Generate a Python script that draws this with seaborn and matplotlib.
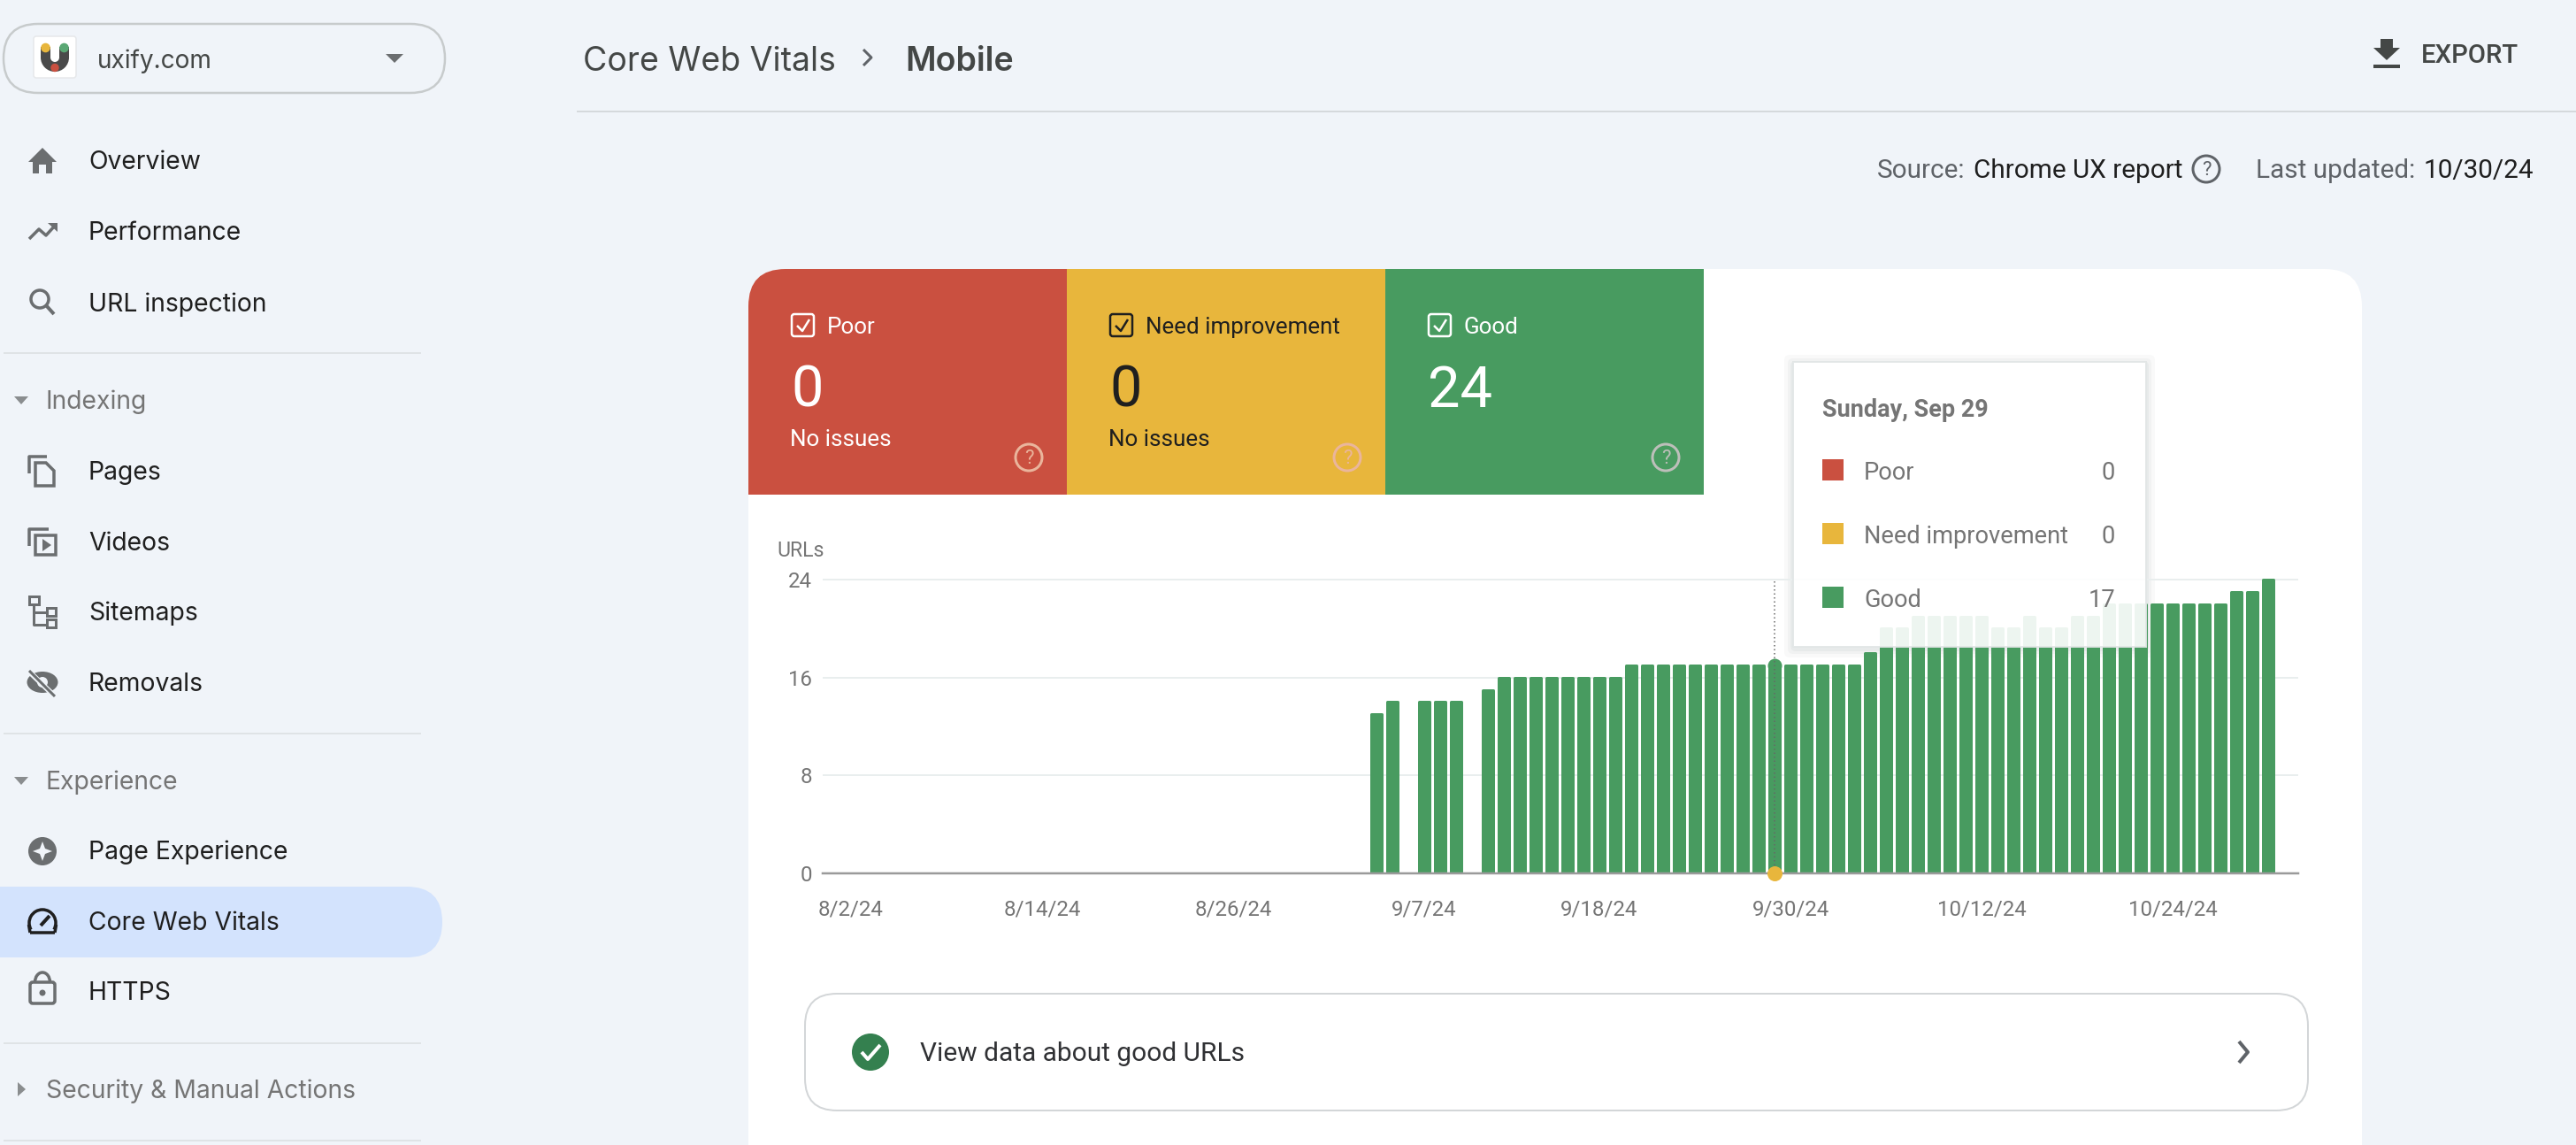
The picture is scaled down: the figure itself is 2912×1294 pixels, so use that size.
import numpy as np
import pandas as pd
import matplotlib
matplotlib.use('Agg')
import matplotlib.pyplot as plt
import seaborn as sns
from matplotlib.patches import Rectangle, FancyBboxPatch, Circle, Wedge, Polygon, Arc, Ellipse

# chart data
good_urls = [0] * 33 + [13, 14, 0, 14, 14, 14, 0, 15] + [16] * 8 + [17] * 15 + [18] \
    + [20, 20, 21, 21, 21, 21, 21, 20, 20, 21, 20, 20, 21, 21] + [22] * 8 + [23, 23, 24]
dates = pd.date_range('2024-08-02', periods=len(good_urls))
day_labels = [f'{d.month}/{d.day}/{d.year % 100}' for d in dates]
x_tick_labels = ['8/2/24', '8/14/24', '8/26/24', '9/7/24', '9/18/24', '9/30/24', '10/12/24', '10/24/24']
y_ticks = [0, 8, 16, 24]
hover_day = '9/29/24'

cards = ['Poor', 'Need improvement', 'Good']
card_counts = [0, 0, 24]
card_notes = ['No issues', 'No issues', '']
tooltip_counts = [0, 0, 17]

nav_items = ['Overview', 'Performance', 'URL inspection', 'Pages', 'Videos', 'Sitemaps',
             'Removals', 'Page Experience', 'Core Web Vitals', 'HTTPS']
nav_y = [181, 261, 342, 532, 612, 691, 771, 961, 1041, 1120]
sections = ['Indexing', 'Experience', 'Security & Manual Actions']
section_y = [452, 882, 1231]
dividers_y = [399, 829, 1179, 1289]

BG = '#f0f4f9'
RED = '#ca5040'
YELLOW = '#e8b63c'
GREEN = '#489b60'
card_colors = [RED, YELLOW, GREEN]
ink = ['white', '#1f1f1f', 'white']
help_colors = ['#eab59c', '#eab59c', '#bdbfba']
DARK = '#1f1f1f'
GREY = '#757575'
ICON = '#6b6e70'
UI_FONT = 'Inter'
CHART_FONT = 'Roboto'


def pt(px):
    return px * 0.72


sns.set_theme(style='white')
plt.rcParams['font.family'] = [CHART_FONT, 'DejaVu Sans']
# seaborn forces white edges on patches, which cuts into the small icons
plt.rcParams['patch.force_edgecolor'] = False

W, H = 2912, 1294
fig = plt.figure(figsize=(W / 100, H / 100), dpi=100, facecolor=BG)

# page layer in pixel coordinates
bg = fig.add_axes([0, 0, 1, 1], zorder=0)
bg.set_xlim(0, W)
bg.set_ylim(H, 0)
bg.axis('off')


def ui_text(ax, x, y, s, px=26, color=DARK, family=UI_FONT, **kw):
    # text boxes sit a little high with va=center, so push down in proportion to size
    kw.setdefault('va', 'center')
    ax.text(x, y + 2 + px * 0.04, s, fontsize=pt(px), color=color, family=family, **kw)


def help_icon(ax, x, y, color, r=15):
    ax.add_patch(Circle((x, y), r, fc='none', ec=color, lw=pt(3)))
    ax.text(x, y + 1, '?', fontsize=pt(22), color=color, ha='center', va='center')


def line(ax, xs, ys, color=ICON, w=3.5, **kw):
    ax.plot(xs, ys, color=color, lw=pt(w), solid_capstyle='butt', **kw)


# sidebar
bg.add_patch(FancyBboxPatch((4, 27), 499, 78, boxstyle='round,pad=0,rounding_size=39', fc='none', ec='#c7cbcc', lw=pt(2.5)))
bg.add_patch(FancyBboxPatch((38, 41), 48, 47, boxstyle='round,pad=0,rounding_size=3', fc='white', ec='#e6e8ea', lw=pt(1.5)))
bg.add_patch(Wedge((62, 65), 16, 0, 180, width=11, fc='#4a4a4a'))
bg.add_patch(Rectangle((46, 53), 11, 12, fc='#4a4a4a'))
bg.add_patch(Rectangle((67, 53), 11, 12, fc='#4a4a4a'))
bg.add_patch(Circle((51.5, 54), 5.3, fc=YELLOW))
bg.add_patch(Circle((72.5, 54), 5.3, fc='#5aa874'))
bg.add_patch(Circle((62, 76.5), 4.7, fc=RED))
ui_text(bg, 110, 66, 'uxify.com', px=28, color='#444746')
bg.add_patch(Polygon([(436, 61), (456, 61), (446, 71)], fc=ICON))

bg.add_patch(FancyBboxPatch((-60, 1002), 560, 80, boxstyle='round,pad=0,rounding_size=40', fc='#d3e3fd', ec='none'))
for name, y in zip(nav_items, nav_y):
    ui_text(bg, 100, y - 1, name, px=28.3)
for name, y in zip(sections, section_y):
    ui_text(bg, 52, y - 1, name, px=28.3, color=GREY)
for y in dividers_y:
    line(bg, [4, 476], [y, y], color='#dfe3e6', w=2)
for y in section_y[:2]:
    bg.add_patch(Polygon([(16, y - 4), (32, y - 4), (24, y + 5)], fc='#8a8d8f'))
bg.add_patch(Polygon([(20, section_y[2] - 8), (29, section_y[2]), (20, section_y[2] + 8)], fc='#8a8d8f'))

# nav icons
bg.add_patch(Polygon([(48, 167), (32, 183), (37, 183), (37, 196), (44, 196), (44, 186), (52, 186),
                      (52, 196), (59, 196), (59, 183), (64, 183)], fc=ICON))
line(bg, [33, 44, 52, 63], [270, 259, 266, 254])
bg.add_patch(Polygon([(54, 252), (65, 252), (65, 262)], fc=ICON))
bg.add_patch(Circle((45, 338), 10, fc='none', ec=ICON, lw=pt(3.5)))
line(bg, [52, 61], [345, 355], w=4)
line(bg, [33, 33, 53], [535, 516, 516])
bg.add_patch(Polygon([(40, 523), (52, 523), (61, 532), (61, 549), (40, 549)], fc='none', ec=ICON, lw=pt(3.5)))
line(bg, [33, 33, 55], [617, 598, 598])
bg.add_patch(Rectangle((40, 605), 23, 22, fc='none', ec=ICON, lw=pt(3.5)))
bg.add_patch(Polygon([(48, 609), (58, 616), (48, 623)], fc=ICON))
for (rx, ry, rw) in [(33, 674, 11), (53, 687, 10), (53, 700, 10)]:
    bg.add_patch(Rectangle((rx, ry), rw, 9, fc='none', ec=ICON, lw=pt(3)))
line(bg, [38, 38, 53], [684, 706, 706], w=3)
line(bg, [38, 53], [692, 692], w=3)
bg.add_patch(Ellipse((48, 771), 35, 24, fc=ICON))
bg.add_patch(Circle((48, 771), 6, fc=BG))
line(bg, [33, 61], [759, 786], color=BG, w=6)
line(bg, [33, 62], [758, 787], w=3)
bg.add_patch(Ellipse((48, 962), 32, 32, fc=ICON))
bg.add_patch(Polygon([(48, 951), (51, 959), (59, 962), (51, 965), (48, 973), (45, 965), (37, 962), (45, 959)], fc=BG))
bg.add_patch(Arc((48, 1043), 30, 30, theta1=150, theta2=30, ec=DARK, lw=pt(3.5)))
line(bg, [34, 62], [1054, 1054], color=DARK)
line(bg, [34, 32.5], [1054, 1045], color=DARK)
line(bg, [62, 63.5], [1054, 1045], color=DARK)
line(bg, [46, 56], [1046, 1035], color=DARK, w=4)
bg.add_patch(FancyBboxPatch((34, 1110), 28, 24, boxstyle='round,pad=0,rounding_size=3', fc='none', ec=ICON, lw=pt(3.5)))
bg.add_patch(Arc((48, 1110), 17, 22, theta1=180, theta2=0, ec=ICON, lw=pt(3.5)))
bg.add_patch(Circle((48, 1122), 3.5, fc=ICON))

# header
ui_text(bg, 659, 66, 'Core Web Vitals', px=37.5, color='#444746')
line(bg, [976, 985, 976], [56, 65, 74], color='#5f6368', w=3)
ui_text(bg, 1023, 66, 'Mobile', px=37.5, color='#444746', fontweight='semibold')
line(bg, [652, W], [126, 126], color='#d5d9dc', w=2)
bg.add_patch(Polygon([(2691, 44), (2705, 44), (2705, 54), (2713, 54), (2698, 68), (2683, 54), (2691, 54)], fc='#444746'))
line(bg, [2683, 2713], [75, 75], color='#444746', w=4)
ui_text(bg, 2737, 60, 'EXPORT', px=29.3, color='#444746', family=CHART_FONT, fontweight='medium')
ui_text(bg, 2122, 190, 'Source:', px=29.8, color='#5f6368', family=CHART_FONT)
ui_text(bg, 2231, 190, 'Chrome UX report', px=29.8, family=CHART_FONT)
help_icon(bg, 2494, 191, '#5f6368')
ui_text(bg, 2550, 190, 'Last updated:', px=29.8, color='#5f6368', family=CHART_FONT)
ui_text(bg, 2864, 190, '10/30/24', px=29.8, family=CHART_FONT, ha='right')

# white panel and status cards
panel = FancyBboxPatch((846, 304), 1824, 1100, boxstyle='round,pad=0,rounding_size=42', fc='white', ec='none')
bg.add_patch(panel)
card_x = [846, 1206, 1566]
for x, name, count, note, color, fg, hc in zip(card_x, cards, card_counts, card_notes, card_colors, ink, help_colors):
    r = Rectangle((x, 304), 360, 255, fc=color, ec='none')
    bg.add_patch(r)
    r.set_clip_path(panel)
    bg.add_patch(FancyBboxPatch((x + 49, 355), 25, 25, boxstyle='round,pad=0,rounding_size=3', fc='none', ec=fg, lw=pt(2.5)))
    line(bg, [x + 55, x + 61, x + 69], [368, 374, 361], color=fg, w=2.5)
    ui_text(bg, x + 89, 367, name, px=26, color=fg, family=CHART_FONT)
    ui_text(bg, x + 48, 437, str(count), px=65, color=fg, family=CHART_FONT)
    if note:
        ui_text(bg, x + 47, 494, note, px=26, color=fg, family=CHART_FONT)
    help_icon(bg, x + 317, 517, hc)

# bottom button
bg.add_patch(FancyBboxPatch((910, 1123), 1699, 132, boxstyle='round,pad=0,rounding_size=36', fc='white', ec='#d3d6d8', lw=pt(2)))
bg.add_patch(Circle((984, 1189), 21, fc='#34804f'))
line(bg, [974, 981, 995], [1189, 1197, 1181], color='white', w=4)
ui_text(bg, 1040, 1188, 'View data about good URLs', px=29.9, family=CHART_FONT, color='#303134')
line(bg, [2531, 2541, 2531], [1177, 1189, 1201], color='#5f6368', w=4)

# tooltip shadow stays on the page layer, under the bars
for grow, a in [(10, 0.05), (6, 0.07), (3, 0.09)]:
    bg.add_patch(FancyBboxPatch((2027 - grow, 409 - grow + 2), 399 + 2 * grow, 322 + 2 * grow,
                                boxstyle='round,pad=0,rounding_size=6', fc='#8a9a9a', ec='none', alpha=a))
bg.add_patch(Rectangle((2027, 409), 399, 322, fc='white', ec='none'))

# the chart itself
y_px_zero, y_px_24 = 987, 655
top_value = 24.5
px_per_url = (y_px_zero - y_px_24) / 24
ax = fig.add_axes([930 / W, 1 - y_px_zero / H, (2598 - 930) / W, px_per_url * top_value / H], zorder=1)
ax.patch.set_alpha(0)

df = pd.DataFrame({'day': day_labels, 'good': good_urls})
sns.barplot(data=df, x='day', y='good', order=day_labels, color=GREEN, saturation=1,
            width=0.72, errorbar=None, ax=ax)
for bar in ax.patches:
    # round join on the outline gives the rounded bar tops
    if bar.get_height() > 0:
        bar.set_edgecolor(GREEN)
        bar.set_linewidth(pt(3))
        bar.set_joinstyle('round')
    else:
        bar.set_linewidth(0)

ax.set_xlim((930 - 962) / 18, (2598 - 962) / 18)
ax.set_ylim(0, top_value)
ax.set_xticks([day_labels.index(t) for t in x_tick_labels], x_tick_labels)
ax.set_yticks(y_ticks, [str(v) for v in y_ticks])
ax.tick_params(axis='x', length=0, pad=pt(30), labelsize=pt(24), labelcolor=GREY)
ax.tick_params(axis='y', length=0, pad=pt(12), labelsize=pt(24), labelcolor=GREY)
ax.set_xlabel('')
ax.set_ylabel('')
ax.set_axisbelow(True)
ax.grid(axis='y', color='#e9eeee', lw=pt(2))
sns.despine(ax=ax, left=True, top=True, right=True)
ax.spines['bottom'].set_color('#9a9a9a')
ax.spines['bottom'].set_linewidth(pt(2.5))

hover = day_labels.index(hover_day)
ax.plot([hover, hover], [0, y_ticks[-1]], color='#666666', lw=pt(1.5), ls=(0, (1, 2)), zorder=4)
ax.plot(hover, good_urls[hover], 'o', ms=pt(16), color=GREEN, mec='none', zorder=3)
ax.plot(hover, 0, 'o', ms=pt(17), color=YELLOW, mec='none', clip_on=False, zorder=5)
ui_text(bg, 878, 620, 'URLs', px=23, color=GREY, family=CHART_FONT)

# tooltip on top of the bars
top = fig.add_axes([0, 0, 1, 1], zorder=2)
top.set_xlim(0, W)
top.set_ylim(H, 0)
top.axis('off')
top.add_patch(Rectangle((2027, 409), 399, 322, fc='white', ec='#e2e6e6', lw=pt(2), alpha=0.91))
ui_text(top, 2060, 460, 'Sunday, Sep 29', px=27, color=GREY, family=CHART_FONT, fontweight='bold')
for y, name, count, color in zip([531, 603, 675], cards, tooltip_counts, card_colors):
    top.add_patch(Rectangle((2060, y - 12), 24, 24, fc=color, ec='none'))
    ui_text(top, 2107, y, name, px=27.3, color=GREY, family=CHART_FONT)
    ui_text(top, 2391, y, str(count), px=27.3, color=GREY, family=CHART_FONT, ha='right')

fig.savefig('out.png', dpi=100, facecolor=BG)
